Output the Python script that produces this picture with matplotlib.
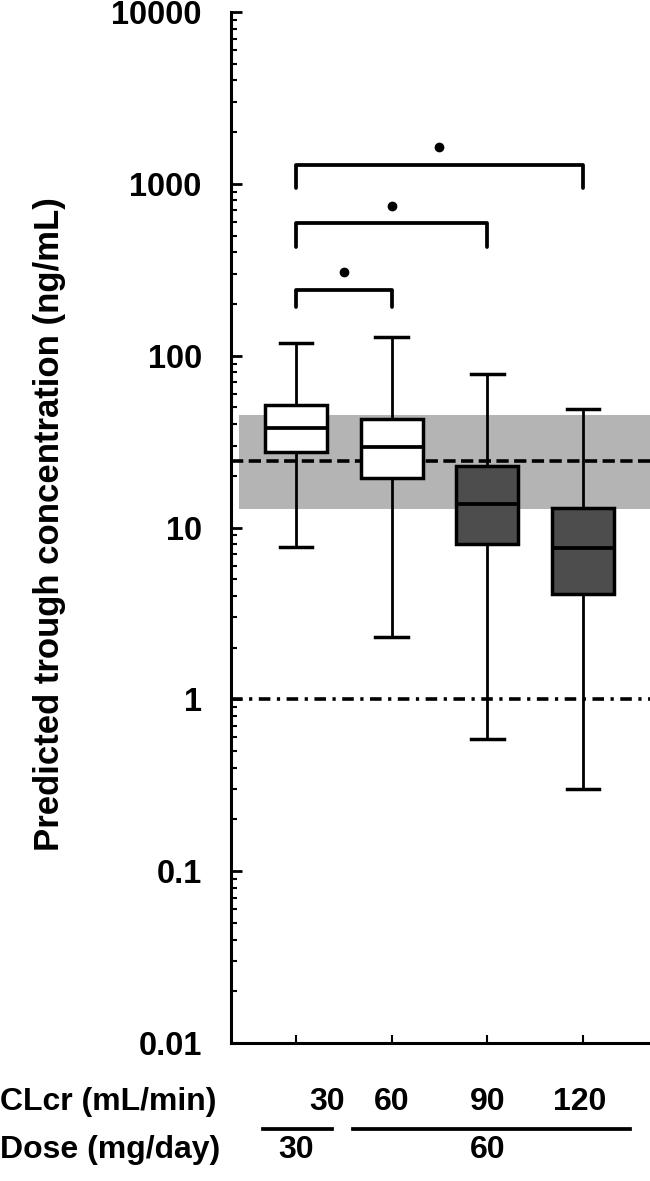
import numpy as np
import matplotlib
matplotlib.use("Agg")
import matplotlib.pyplot as plt
from matplotlib.ticker import LogLocator, NullFormatter, FixedLocator, FixedFormatter
import matplotlib.transforms as mtransforms

plt.rcParams['font.family'] = ['Liberation Sans', 'DejaVu Sans']

# ---- data ----
groups = [1, 2, 3, 4]
medians = [37.9, 29.4, 13.7, 7.6]
q1 = [27.5, 19.4, 8.0, 4.1]
q3 = [51.6, 42.8, 22.8, 13.0]
whislo = [7.7, 2.3, 0.59, 0.30]
whishi = [118, 128, 78, 49]
box_colors = ['white', 'white', '#4d4d4d', '#4d4d4d']

band_low, band_high = 12.8, 45.0
target_line = 24.5
lower_line = 1.0

# significance brackets (from group, to group, bar height, leg bottom, star height)
br_from = [1, 1, 1]
br_to = [2, 3, 4]
br_top = [241, 591, 1286]
br_leg = [192, 429, 945]
star_y = [307, 743, 1637]

ytick_vals = [0.01, 0.1, 1, 10, 100, 1000, 10000]
ytick_labels = ['0.01', '0.1', '1', '10', '100', '1000', '10000']

clcr_labels = ['30', '60', '90', '120']
dose_labels = ['30', '60']
dose_groups = [[1], [2, 3, 4]]

ylabel = 'Predicted trough concentration (ng/mL)'

# ---- figure ----
W, H = 650, 1181
fig = plt.figure(figsize=(W / 100, H / 100), dpi=100)
ax = fig.add_axes([231 / W, 1 - 1043 / H, 1 - 231 / W, (1043 - 12) / H])
ax.set_yscale('log')
ax.set_ylim(0.01, 10000)
ax.set_xlim(0.321, 4.70)

# band and reference lines
ax.axhspan(band_low, band_high, xmin=0.02, xmax=1.0, color='#b4b4b4', lw=0, zorder=1)
ax.axhline(target_line, color='black', lw=2.6, linestyle=(0, (3.4, 1.5)), zorder=2)
ax.axhline(lower_line, color='black', lw=2.6, linestyle=(0, (3.2, 1.8, 0.9, 1.8)), zorder=2)

# boxes
stats = []
for i in range(len(groups)):
    stats.append(dict(med=medians[i], q1=q1[i], q3=q3[i],
                      whislo=whislo[i], whishi=whishi[i], fliers=[]))
bp = ax.bxp(stats, positions=groups, widths=0.65, patch_artist=True,
            showfliers=False, capwidths=0.34,
            boxprops=dict(lw=2.5, edgecolor='black'),
            whiskerprops=dict(lw=2.0, color='black'),
            capprops=dict(lw=2.5, color='black'),
            medianprops=dict(lw=2.7, color='black'),
            zorder=3)
for patch, c in zip(bp['boxes'], box_colors):
    patch.set_facecolor(c)

# brackets
for a, b, top, leg, sy in zip(br_from, br_to, br_top, br_leg, star_y):
    ax.plot([a, a, b, b], [leg, top, top, leg], color='black', lw=2.7,
            solid_capstyle='round', solid_joinstyle='round', zorder=4)
    ax.plot([(a + b) / 2], [sy], marker='o', ms=6, color='black', zorder=4)

# axes styling
for s in ['top', 'right']:
    ax.spines[s].set_visible(False)
ax.spines['left'].set_linewidth(2.2)
ax.spines['bottom'].set_linewidth(2.2)

ax.yaxis.set_major_locator(FixedLocator(ytick_vals))
ax.yaxis.set_major_formatter(FixedFormatter(ytick_labels))
ax.yaxis.set_minor_locator(LogLocator(base=10, subs=np.arange(2, 10)))
ax.yaxis.set_minor_formatter(NullFormatter())
ax.tick_params(axis='y', which='major', direction='in', length=8, width=2, pad=21,
               labelsize=23.5)
ax.tick_params(axis='y', which='minor', direction='in', length=4, width=1.5)
for lab in ax.get_yticklabels():
    lab.set_fontweight('bold')

ax.set_xticks(groups)
ax.set_xticklabels([''] * len(groups))
ax.tick_params(axis='x', which='major', direction='in', length=6, width=1.5)

# y label
fig.text(50 / W, 1 - 524 / H, ylabel, rotation=90, ha='center', va='center',
         fontsize=25, fontweight='bold')

# bottom category labels
fs = 23
trans = mtransforms.blended_transform_factory(ax.transData, fig.transFigure)
y_clcr = 1 - 1102 / H
y_line = 1 - 1129 / H
y_dose = 1 - 1150 / H
fig.text(0.0, y_clcr, 'CLcr (mL/min)', ha='left', va='center', fontsize=fs, fontweight='bold')
fig.text(0.0, y_dose, 'Dose (mg/day)', ha='left', va='center', fontsize=fs, fontweight='bold')
for i, lab in enumerate(clcr_labels):
    if i == 0:
        ax.text(groups[i] + 0.51, y_clcr, lab, transform=trans, ha='right', va='center',
                fontsize=fs, fontweight='bold', clip_on=False)
    else:
        ax.text(groups[i] - (0.03 if i == 3 else 0), y_clcr, lab, transform=trans,
                ha='center', va='center', fontsize=fs, fontweight='bold', clip_on=False)
for lab, g in zip(dose_labels, dose_groups):
    xc = 1 if len(g) == 1 else float(np.mean(g))
    x0 = min(g) - 0.345 if len(g) == 1 else min(g) - 0.40
    x1 = max(g) + 0.375 if len(g) == 1 else max(g) + 0.49
    ax.plot([x0, x1], [y_line, y_line], transform=trans, color='black', lw=2.7,
            clip_on=False)
    ax.text(xc, y_dose, lab, transform=trans, ha='center', va='center',
            fontsize=fs, fontweight='bold', clip_on=False)

fig.savefig('out.png', dpi=100)
